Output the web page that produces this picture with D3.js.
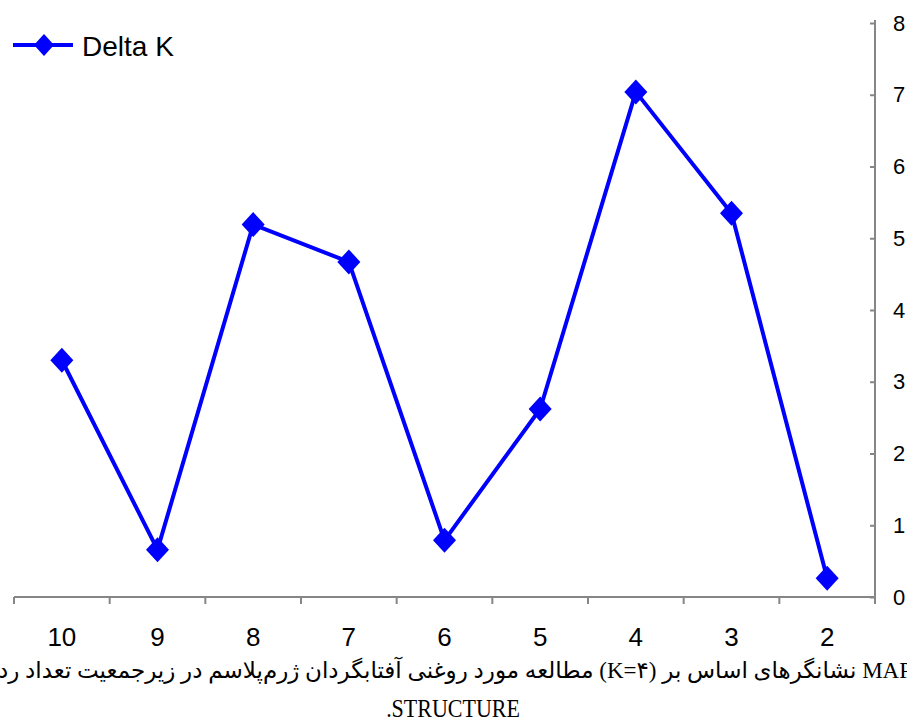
<!DOCTYPE html>
<html>
<head>
<meta charset="utf-8">
<script src="https://cdn.jsdelivr.net/npm/d3@7"></script>
<style>
  html, body { margin: 0; padding: 0; background: #fff; overflow: hidden; }
  svg { display: block; }
</style>
</head>
<body>
<svg id="chart" width="907" height="724"></svg>
<script>
// ---- data ----
const categories = ["10", "9", "8", "7", "6", "5", "4", "3", "2"];
const deltaK = [3.30, 0.66, 5.19, 4.67, 0.79, 2.62, 7.04, 5.35, 0.26];
const yTicks = [0, 1, 2, 3, 4, 5, 6, 7, 8];
const seriesName = "Delta K";
const captionWords = ["رد", "تعداد", "زیرجمعیت", "در", "ژرم‌پلاسم", "آفتابگردان", "روغنی", "مورد", "مطالعه", "(K=۴)", "بر", "اساس", "نشانگرهای", "MAP"];
const captionLine2 = ".STRUCTURE";

// ---- layout ----
const svg = d3.select("#chart");
const plotLeft = 14, plotRight = 875, plotTop = 23, plotBottom = 597;
const axisColor = "#868686";
const blue = "#0000FF";

const x = d3.scaleBand().domain(categories).range([plotLeft, plotRight]).padding(0);
const y = d3.scaleLinear().domain([0, 8]).range([plotBottom, plotTop]);

// y axis (right)
const yAxis = d3.axisRight(y).tickValues(yTicks).tickSize(-5).tickPadding(18).tickFormat(d3.format("d"));
const gy = svg.append("g").attr("transform", `translate(${plotRight},0)`).call(yAxis);
gy.select(".domain").attr("stroke", axisColor).attr("stroke-width", 2)
  .attr("d", `M0,${plotTop - 3}V${plotBottom + 7}`);
gy.selectAll(".tick line").attr("stroke", axisColor).attr("stroke-width", 2);
gy.selectAll(".tick text").attr("font-family", "Liberation Sans, Arial, sans-serif")
  .attr("font-size", 22).attr("fill", "#000");

// x axis (bottom)
const xAxis = d3.axisBottom(x).tickSize(0).tickPadding(31);
const gx = svg.append("g").attr("transform", `translate(0,${plotBottom})`).call(xAxis);
gx.select(".domain").attr("stroke", axisColor).attr("stroke-width", 2)
  .attr("d", `M${plotLeft},0H${plotRight}`);
gx.selectAll(".tick text").attr("font-family", "Liberation Sans, Arial, sans-serif")
  .attr("font-size", 26).attr("fill", "#000");
const boundaries = categories.map(c => x(c));
gx.selectAll("line.bound").data(boundaries).enter().append("line")
  .attr("class", "bound")
  .attr("x1", d => d).attr("x2", d => d)
  .attr("y1", 0).attr("y2", 7)
  .attr("stroke", axisColor).attr("stroke-width", 2);

// series
const pts = categories.map((c, i) => ({ c, v: deltaK[i] }));
const line = d3.line().x(d => x(d.c) + x.bandwidth() / 2).y(d => y(d.v));
svg.append("path").datum(pts).attr("d", line)
  .attr("fill", "none").attr("stroke", blue).attr("stroke-width", 4)
  .attr("stroke-linejoin", "round");

const hw = 11.5, hh = 12.5;
const diamond = `M0,${-hh}L${hw},0L0,${hh}L${-hw},0Z`;
svg.selectAll("path.pt").data(pts).enter().append("path")
  .attr("class", "pt")
  .attr("d", diamond)
  .attr("transform", d => `translate(${x(d.c) + x.bandwidth() / 2},${y(d.v)})`)
  .attr("fill", blue);

// legend
const lg = svg.append("g");
lg.append("line").attr("x1", 13).attr("x2", 73).attr("y1", 45).attr("y2", 45)
  .attr("stroke", blue).attr("stroke-width", 4);
lg.append("path").attr("d", `M0,-11L10,0L0,11L-10,0Z`).attr("transform", "translate(44,45)").attr("fill", blue);
lg.append("text").attr("x", 82).attr("y", 56).text(seriesName)
  .attr("font-family", "Liberation Sans, Arial, sans-serif").attr("font-size", 28).attr("fill", "#000");

// caption line 1: words laid out left to right (clipped by the page edges as in the source)
const capG = svg.append("g").attr("font-family", "Liberation Serif, DejaVu Sans, serif").attr("font-size", 23).attr("fill", "#000");
const wordEls = captionWords.map(w => capG.append("text").attr("y", 678).text(w));
const widths = wordEls.map(el => el.node().getComputedTextLength());
const x0 = -2, x1 = 912;
const total = widths.reduce((a, b) => a + b, 0);
const gap = Math.max(5, (x1 - x0 - total) / (captionWords.length - 1));
let cx = x0;
wordEls.forEach((el, i) => { el.attr("x", cx); cx += widths[i] + gap; });

// caption line 2
svg.append("text").attr("transform", "translate(453,717) scale(1,1.15)").attr("text-anchor", "middle")
  .attr("font-family", "Liberation Serif, serif").attr("font-size", 22).attr("fill", "#000")
  .text(captionLine2);
</script>
</body>
</html>
